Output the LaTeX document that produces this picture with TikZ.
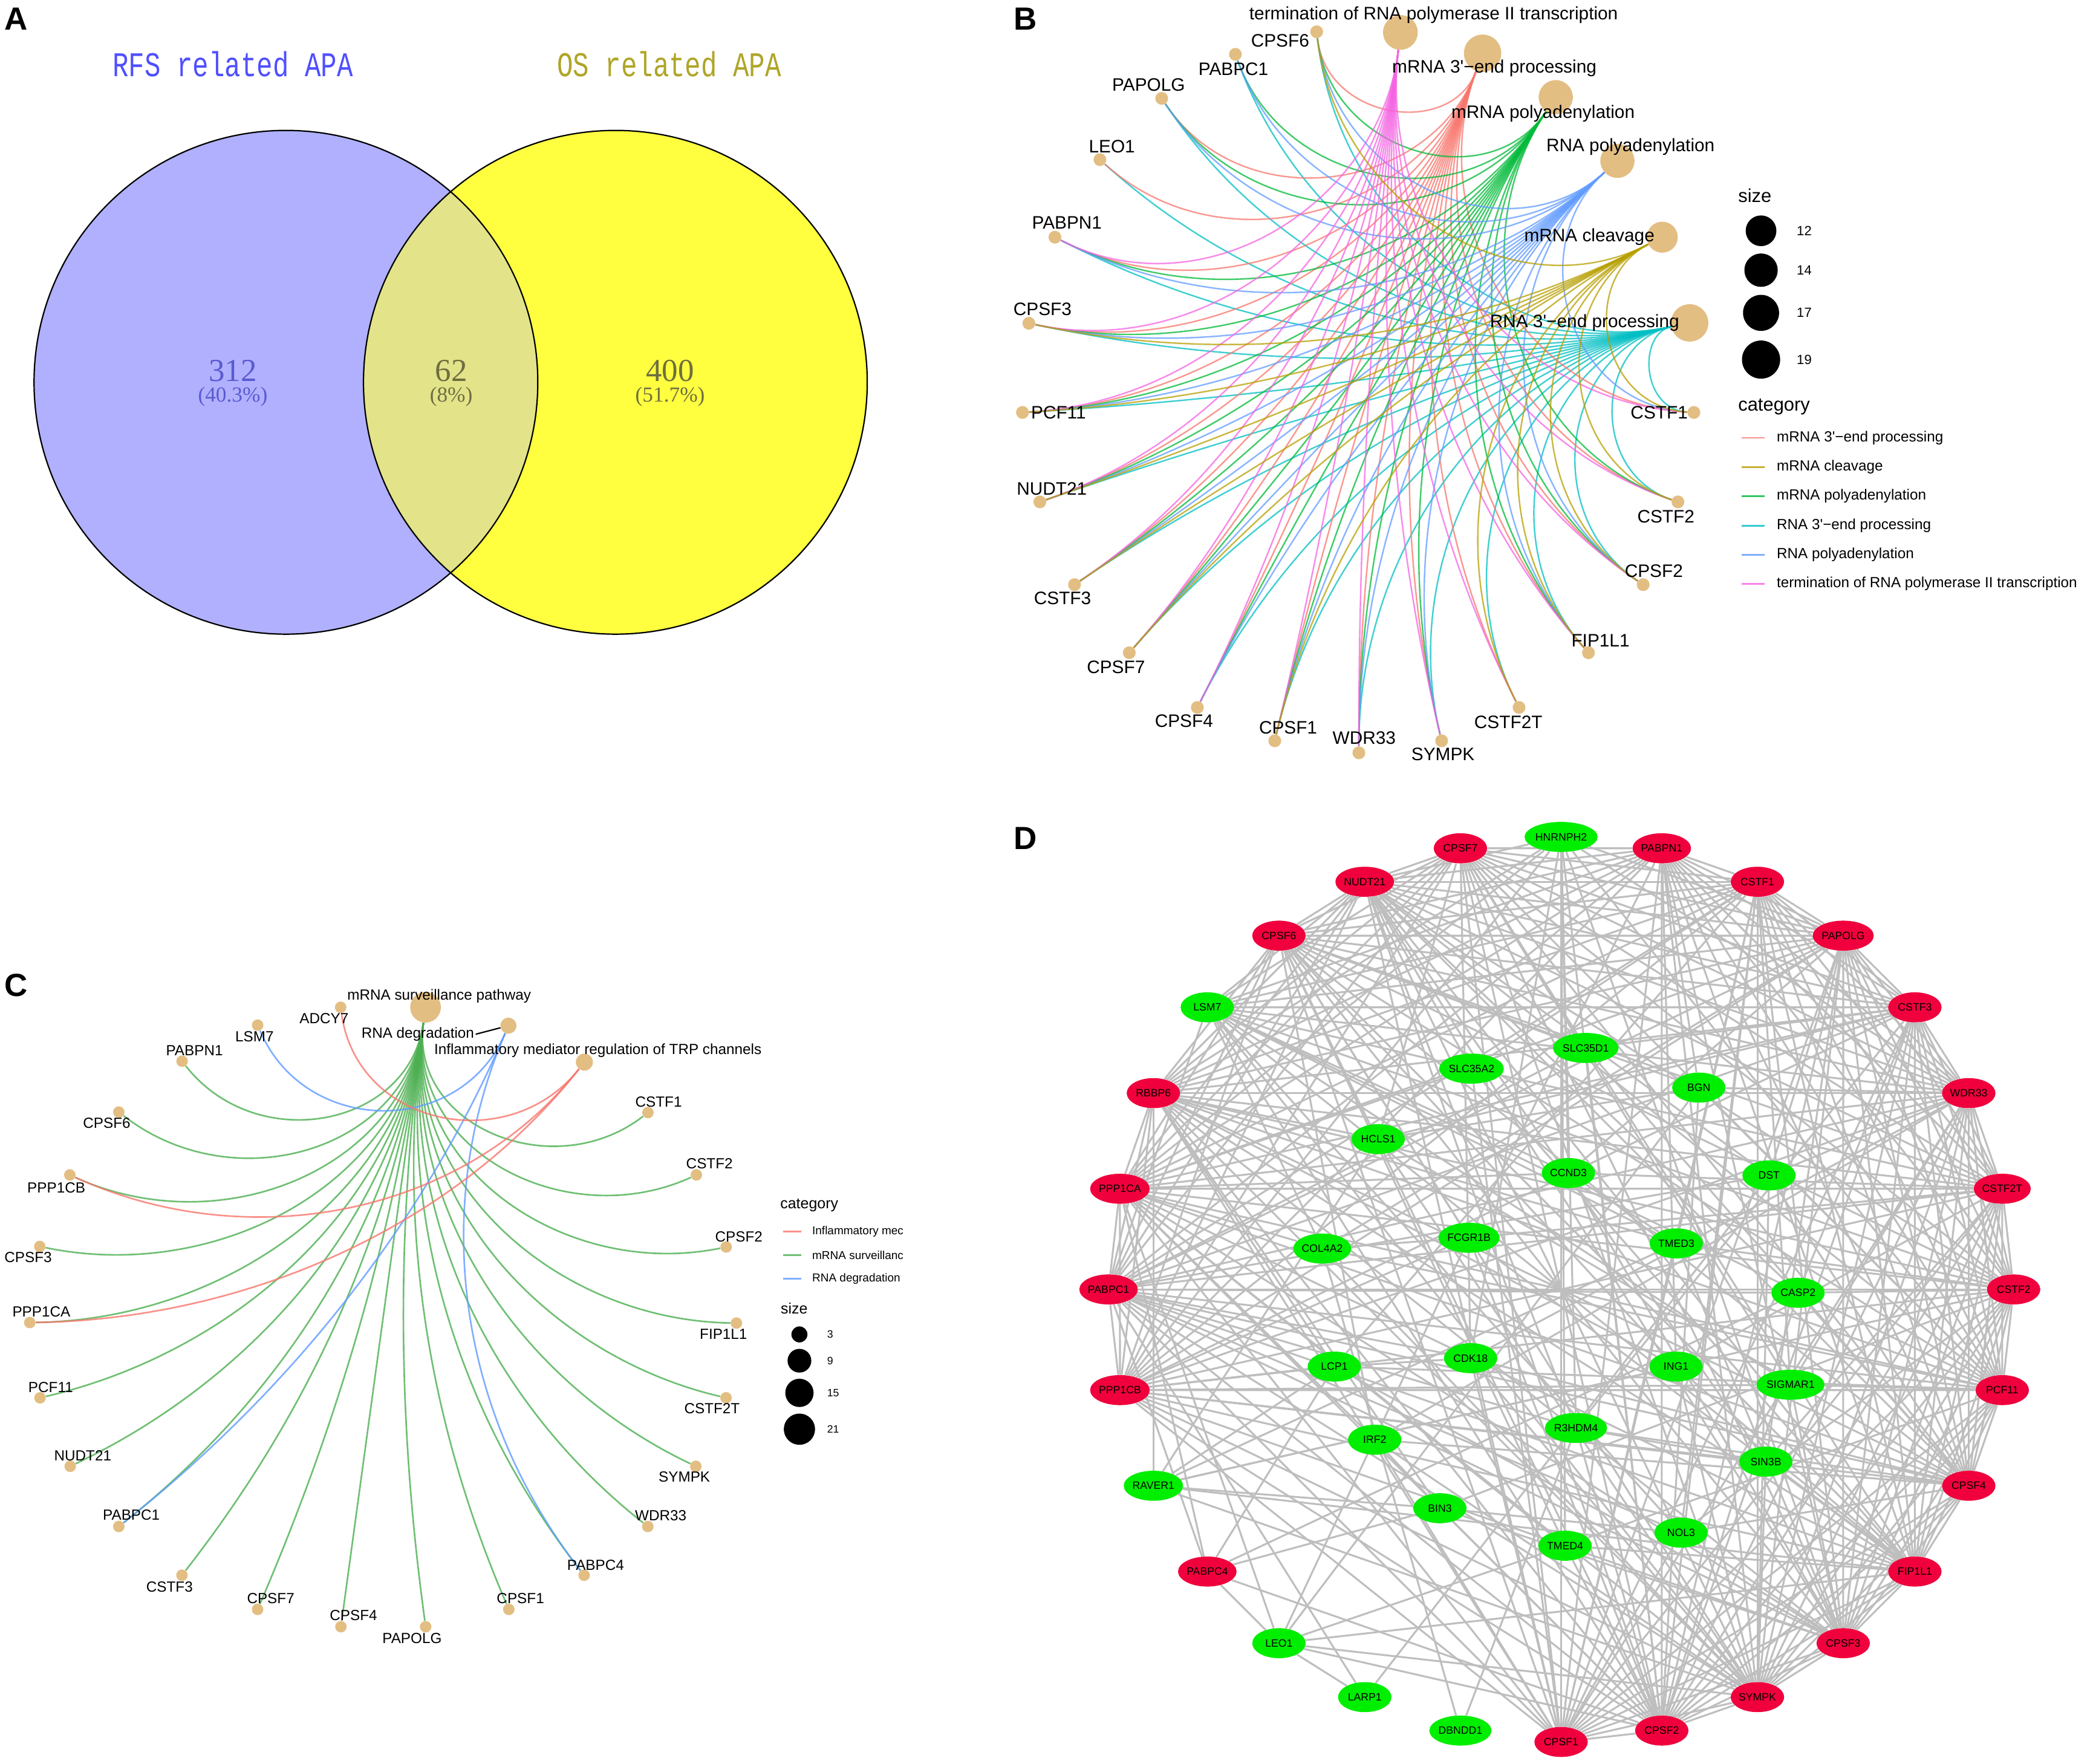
\documentclass[tikz,border=0pt]{standalone}
\usepackage{graphicx}
\usepackage{fontspec}
\setmainfont{Liberation Sans}
\newfontfamily\vmono{Liberation Mono}
\newfontfamily\vserif{Liberation Serif}
\font\aposA="Liberation Sans" at 11pt
\font\aposB="Liberation Sans" at 13.5pt
\usetikzlibrary{calc,shapes.geometric}
\pgfdeclarelayer{back}
\pgfdeclarelayer{bg}
\pgfsetlayers{back,bg,main}
\definecolor{vennL}{HTML}{B0B0FF}
\definecolor{vennR}{HTML}{FFFF40}
\definecolor{vennI}{HTML}{E3E38A}
\definecolor{rfsC}{HTML}{4F4FFF}
\definecolor{osC}{HTML}{AFA528}
\definecolor{nBlue}{HTML}{5A5AD0}
\definecolor{nOlive}{HTML}{6E6E40}
\definecolor{tanC}{HTML}{E3BE82}
\definecolor{cM3}{HTML}{F8766D}
\definecolor{cMcl}{HTML}{B79F00}
\definecolor{cMpa}{HTML}{00BA38}
\definecolor{cR3}{HTML}{00BFC4}
\definecolor{cRpa}{HTML}{619CFF}
\definecolor{cTerm}{HTML}{F564E3}
\definecolor{cGrn}{HTML}{4CAF50}
\definecolor{dRed}{HTML}{F0003C}
\definecolor{dGreen}{HTML}{00EE00}
\definecolor{dEdge}{HTML}{BEBEBE}
\newcommand\fs[1]{\fontsize{#1}{#1}\selectfont}
% arc orthogonal to the layout circle (radius \Rad, centre #4)
\newcommand\garc[4]{\draw[#1] let \p1=(#2), \p2=(#3), \n1={veclen(\x2-\x1,\y2-\y1)}, \n2={4/3*\n1/(2+\n1/\Rad)} in (#2) .. controls ($(#2)!\n2!(#4)$) and ($(#3)!\n2!(#4)$) .. (#3);}
\begin{document}
\begin{tikzpicture}[x=1pt,y=-1pt,
  plabel/.style={font=\fs{24}\bfseries, inner sep=0},
  glabel/.style={inner sep=0, font=\fs{13.5}},
  clabel/.style={inner sep=0, font=\fs{11}},
  bdot/.style={circle, fill=tanC, inner sep=0, minimum size=9.6},
  cdot/.style={circle, fill=tanC, inner sep=0, minimum size=8.6},
  dnode/.style={ellipse, inner sep=0, minimum width=40, minimum height=22.5, font=\fs{8}},
  dedge/.style={draw=dEdge, line width=1.4pt},
  bedge/.style={line width=1.1pt, opacity=0.75},
  cedge/.style={line width=1.2pt, opacity=0.8},
  legB/.style={inner sep=0, anchor=west, font=\fs{11}},
  legC/.style={inner sep=0, anchor=west, font=\fs{8.6}},
]
\useasboundingbox (0,0) rectangle (1568,1321.5);
\begin{pgfonlayer}{back}
\fill[white] (0,0) rectangle (1568,1321.5);
\end{pgfonlayer}

%% ---------------- Panel A ----------------
\node[plabel] (labA) at (12,14) {A};
\fill[vennL] (214.2,286.4) circle[radius=188.7];
\fill[vennR] (461,286.4) circle[radius=188.7];
\begin{scope}
  \clip (214.2,286.4) circle[radius=188.7];
  \fill[vennI] (461,286.4) circle[radius=188.7];
\end{scope}
\draw[line width=1pt] (214.2,286.4) circle[radius=188.7];
\draw[line width=1pt] (461,286.4) circle[radius=188.7];
\node[inner sep=0, font=\vmono\fs{20}, text=rfsC] (rfs) at (174.4,48) {\scalebox{1}[1.3]{RFS related APA}};
\node[inner sep=0, font=\vmono\fs{20}, text=osC] (os) at (501.3,48) {\scalebox{1}[1.3]{OS related APA}};
\node[inner sep=0, font=\vserif\fs{24}, text=nBlue] (n312) at (174.4,278) {312};
\node[inner sep=0, font=\vserif\fs{16}, text=nBlue] (p312) at (174.4,297) {(40.3\%)};
\node[inner sep=0, font=\vserif\fs{24}, text=nOlive] (n62) at (338,278) {62};
\node[inner sep=0, font=\vserif\fs{16}, text=nOlive] (p62) at (338,297) {(8\%)};
\node[inner sep=0, font=\vserif\fs{24}, text=nOlive] (n400) at (502,278) {400};
\node[inner sep=0, font=\vserif\fs{16}, text=nOlive] (p400) at (502,297) {(51.7\%)};

%% ---------------- Panel B ----------------
\node[plabel] (labB) at (768,14) {B};
\coordinate (bctr) at (1017.5,294);
\foreach \n/\x/\y in {CPSF6/986.4/23.8, PABPC1/925.5/40.7, PAPOLG/870.3/73.7, LEO1/824/119.6, PABPN1/790.3/177.7, CPSF3/770.8/242.2, PCF11/766/309, NUDT21/779/376, CSTF3/805/438, CPSF7/846/489, CPSF4/897/530, CPSF1/955/555, WDR33/1018/564, SYMPK/1080/555, CSTF2T/1138/530, FIP1L1/1190/489, CPSF2/1231/438, CSTF2/1257/376, CSTF1/1269/309}
{ \node[bdot] (b\n) at (\x,\y) {}; }
\node[bdot, minimum size=26] (bTerm) at (1049.1,24.3) {};
\node[bdot, minimum size=28] (bM3) at (1110.7,39.9) {};
\node[bdot, minimum size=25.6] (bMpa) at (1165.5,72.8) {};
\node[bdot, minimum size=25.6] (bRpa) at (1211.7,120.5) {};
\node[bdot, minimum size=23.2] (bMcl) at (1245.3,177.7) {};
\node[bdot, minimum size=28] (bR3) at (1265.8,241.9) {};

\def\Rad{260}
\begin{pgfonlayer}{bg}
\foreach \g in {CPSF6,PABPC1,PAPOLG,LEO1,PABPN1,CPSF3,PCF11,NUDT21,CSTF3,CPSF7,CPSF4,CPSF1,WDR33,SYMPK,CSTF2T,FIP1L1,CPSF2,CSTF2,CSTF1}
  {\garc{bedge,cR3}{bR3}{b\g}{bctr}}
\foreach \g in {CPSF6,PAPOLG,LEO1,PABPN1,CPSF3,PCF11,NUDT21,CSTF3,CPSF7,CPSF4,CPSF1,WDR33,SYMPK,CSTF2T,FIP1L1,CPSF2,CSTF2,CSTF1}
  {\garc{bedge,cM3}{bM3}{b\g}{bctr}}
\foreach \g in {CPSF6,PABPC1,PAPOLG,PABPN1,CPSF3,PCF11,NUDT21,CSTF3,CPSF7,CPSF4,CPSF1,WDR33,SYMPK,FIP1L1,CPSF2,CSTF2}
  {\garc{bedge,cMpa}{bMpa}{b\g}{bctr}}
\foreach \g in {CPSF6,PABPC1,PAPOLG,PABPN1,CPSF3,PCF11,NUDT21,CSTF3,CPSF7,CPSF4,CPSF1,WDR33,SYMPK,FIP1L1,CPSF2,CSTF1}
  {\garc{bedge,cRpa}{bRpa}{b\g}{bctr}}
\foreach \g in {PABPN1,CPSF3,PCF11,NUDT21,CSTF3,CPSF7,CPSF4,CPSF1,WDR33,SYMPK,CSTF2T,FIP1L1,CPSF2,CSTF2,CSTF1}
  {\garc{bedge,cTerm}{bTerm}{b\g}{bctr}}
\foreach \g in {CPSF6,CPSF3,PCF11,NUDT21,CSTF3,CPSF7,CPSF1,CSTF2T,FIP1L1,CPSF2,CSTF2,CSTF1}
  {\garc{bedge,cMcl}{bMcl}{b\g}{bctr}}
\end{pgfonlayer}

\foreach \n/\lx/\ly in {CPSF6/959/30.3, PABPC1/924/51.7, PAPOLG/860.5/63.6, LEO1/833/109.8, PABPN1/799.3/167, CPSF3/781/231.5, PCF11/793/309, NUDT21/788/366, CSTF3/796/448, CPSF7/836/500, CPSF4/887/540, CPSF1/965/545, WDR33/1022/553, SYMPK/1081/565, CSTF2T/1130/541, FIP1L1/1199/480, CPSF2/1239/428, CSTF2/1248/387, CSTF1/1243/309}
{ \node[glabel] (bl\n) at (\lx,\ly) {\n}; }
\node[glabel] (blTerm) at (1074,11.3) {termination of RNA polymerase II transcription};
\node[glabel] (blM3) at (1119.5,51.2) {mRNA 3{\aposB'}−end processing};
\node[glabel] (blMpa) at (1156,85) {mRNA polyadenylation};
\node[glabel] (blRpa) at (1221.5,109.8) {RNA polyadenylation};
\node[glabel] (blMcl) at (1190.7,177.7) {mRNA cleavage};
\node[glabel] (blR3) at (1187.1,241.9) {RNA 3{\aposB'}−end processing};

% legend B
\node[inner sep=0, anchor=west, font=\fs{14}] (bsize) at (1302,146.6) {size};
\foreach \y/\d/\t in {172.9/23/12, 202.4/25/14, 234.4/27/17, 269.4/28.6/19}
{ \node[circle, fill=black, inner sep=0, minimum size=\d] (bs\t) at (1319.3,\y) {};
  \node[inner sep=0, anchor=west, font=\fs{10}] (bst\t) at (1345.9,\y) {\t}; }
\node[inner sep=0, anchor=west, font=\fs{14}] (bcat) at (1302,304.7) {category};
\foreach \y/\c/\t [count=\k] in {328/cM3/{mRNA 3{\aposA'}−end processing}, 349.9/cMcl/{mRNA cleavage}, 371.7/cMpa/{mRNA polyadenylation}, 393.8/cR3/{RNA 3{\aposA'}−end processing}, 415.7/cRpa/{RNA polyadenylation}, 437.5/cTerm/{termination of RNA polymerase II transcription}}
{ \draw[\c, line width=1.3pt, opacity=0.8] (1304.8,\y) -- (1322,\y);
  \node[legB] (bleg\k) at (1330.9,\y) {\t}; }

%% ---------------- Panel C ----------------
\node[plabel] (labC) at (12,738) {C};
\coordinate (cctr) at (287,987);
\foreach \n/\x/\y in {ADCY7/255.2/754.6, LSM7/193/768, PABPN1/136.4/795, CPSF6/89/833.1, PPP1CB/52.3/880.2, CPSF3/29.8/933.8, PPP1CA/22.3/990.8, PCF11/30/1047.2, NUDT21/52.6/1098.5, PABPC1/89/1143.6, CSTF3/136.3/1180.1, CPSF7/193/1205.7, CPSF4/255.4/1218.7, PAPOLG/318.9/1218.7, CPSF1/381.2/1205.7, PABPC4/437.6/1180.1, WDR33/485.3/1143.6, SYMPK/521.3/1098.5, CSTF2T/543.9/1047.2, FIP1L1/551.7/991.2, CPSF2/544/934.2, CSTF2/521.7/880.2, CSTF1/485.4/833.5}
{ \node[cdot] (c\n) at (\x,\y) {}; }
\node[cdot, minimum size=23] (cHub) at (318.8,754.6) {};
\node[cdot, minimum size=12] (cRD) at (380.9,768.4) {};
\node[cdot, minimum size=12.8] (cInf) at (437.8,795.7) {};

\def\Rad{250}
\begin{pgfonlayer}{bg}
\foreach \g in {PABPN1,CPSF6,PPP1CB,CPSF3,PPP1CA,PCF11,NUDT21,PABPC1,CSTF3,CPSF7,CPSF4,PAPOLG,CPSF1,PABPC4,WDR33,SYMPK,CSTF2T,FIP1L1,CPSF2,CSTF2,CSTF1}
  {\garc{cedge,cGrn}{cHub}{c\g}{cctr}}
\foreach \g in {LSM7,PABPC1,PABPC4}
  {\garc{cedge,cRpa}{cRD}{c\g}{cctr}}
\foreach \g in {ADCY7,PPP1CB,PPP1CA}
  {\garc{cedge,cM3}{cInf}{c\g}{cctr}}
\end{pgfonlayer}

\foreach \n/\lx/\ly in {ADCY7/242.8/762.9, LSM7/190.7/776.5, PABPN1/145.7/787, CPSF6/80/841.2, PPP1CB/42.2/889.7, CPSF3/21.1/941.9, PPP1CA/31/982.7, PCF11/38/1039.5, NUDT21/62/1090.5, PABPC1/98.4/1134.9, CSTF3/127/1188.8, CPSF7/202.8/1197.3, CPSF4/264.8/1210.3, PAPOLG/308.7/1227.4, CPSF1/389.9/1197.3, PABPC4/446.2/1172.5, WDR33/495/1135.6, SYMPK/512.7/1106.4, CSTF2T/533.4/1055, FIP1L1/542/999.3, CPSF2/553.5/926.5, CSTF2/531.5/871.9, CSTF1/493.4/825.6}
{ \node[clabel] (cl\n) at (\lx,\ly) {\n}; }
\node[clabel] (clHub) at (329,746.1) {mRNA surveillance pathway};
\node[clabel] (clRD) at (313,774.8) {RNA degradation};
\node[clabel] (clInf) at (447.9,787) {Inflammatory mediator regulation of TRP channels};
\draw[black, line width=1pt] ([xshift=1pt]clRD.east) -- (cRD);

% legend C
\node[inner sep=0, anchor=west, font=\fs{11.3}] (ccat) at (584.4,902.8) {category};
\foreach \y/\c/\t [count=\k] in {922.6/cM3/{Inflammatory mec}, 940.2/cGrn/{mRNA surveillanc}, 958/cRpa/{RNA degradation}}
{ \draw[\c, line width=1.2pt, opacity=0.8] (586.5,\y) -- (600.2,\y);
  \node[legC] (cleg\k) at (608.3,\y) {\t}; }
\node[inner sep=0, anchor=west, font=\fs{11.3}] (csize) at (584.7,980.4) {size};
\foreach \y/\d/\t in {999.7/12/3, 1019.4/17.8/9, 1043.5/21.2/15, 1070.7/23.4/21}
{ \node[circle, fill=black, inner sep=0, minimum size=\d] (cs\t) at (598.9,\y) {};
  \node[inner sep=0, anchor=west, font=\fs{8}] (cst\t) at (619.5,\y) {\t}; }

%% ---------------- Panel D ----------------
\node[plabel] (labD) at (768,628) {D};
\foreach \i/\n/\c in {0/HNRNPH2/dGreen, 1/PABPN1/dRed, 2/CSTF1/dRed, 3/PAPOLG/dRed, 4/CSTF3/dRed, 5/WDR33/dRed, 6/CSTF2T/dRed, 7/CSTF2/dRed, 8/PCF11/dRed, 9/CPSF4/dRed, 10/FIP1L1/dRed, 11/CPSF3/dRed, 12/SYMPK/dRed, 13/CPSF2/dRed, 14/CPSF1/dRed, 15/DBNDD1/dGreen, 16/LARP1/dGreen, 17/LEO1/dGreen, 18/PABPC4/dRed, 19/RAVER1/dGreen, 20/PPP1CB/dRed, 21/PABPC1/dRed, 22/PPP1CA/dRed, 23/RBBP6/dRed, 24/LSM7/dGreen, 25/CPSF6/dRed, 26/NUDT21/dRed, 27/CPSF7/dRed}
{ \node[dnode, fill=\c] (d\i) at ({1169.5+339*cos(90-\i*360/28)},{966-339*sin(90-\i*360/28)}) {\n}; }
\foreach \n/\x/\y in {SLC35D1/1188/785.1, SLC35A2/1102.4/800.6, BGN/1272.7/814.8, HCLS1/1032.5/853.4, CCND3/1175/878.8, DST/1325.3/880.6, FCGR1B/1100.5/927.3, TMED3/1255.8/931.5, COL4A2/990.6/935.4, CASP2/1347/968.5, LCP1/999.6/1023.8, CDK18/1101.7/1017.5, ING1/1255.6/1023.8, SIGMAR1/1341.4/1037.4, R3HDM4/1180.7/1069.8, IRF2/1029.9/1078.6, SIN3B/1322.9/1095, BIN3/1078.7/1129.9, NOL3/1259.4/1148.2, TMED4/1172.5/1158}
{ \node[dnode, fill=dGreen] (D\n) at (\x,\y) {\n}; }

\begin{pgfonlayer}{bg}
\foreach \a [count=\ia] in {1,2,3,4,5,6,7,8,9,10,11,12,13,14,20,21,22,23,25,26,27}
{ \foreach \b [count=\ib] in {1,2,3,4,5,6,7,8,9,10,11,12,13,14,20,21,22,23,25,26,27}
  { \ifnum\ib>\ia \draw[dedge] (d\a) -- (d\b); \fi } }
\foreach \a/\L in {d0/{d3,d5,d8,d11,d13,d14,d20,d22,d23,d26},
  d24/{d1,d2,d3,d4,d5,d7,d8,d10,d12,d13,d21,d26,d27},
  d19/{d7,d10,d12,DLCP1,d23},
  d17/{d10,d12,d13,d16,d22,DTMED4},
  d16/{d21},
  d15/{DR3HDM4},
  d18/{d22,DLCP1,DBIN3,d17,d13,d21},
  DSLC35D1/{d25,d27,d4,d9,d13,d21},
  DSLC35A2/{d26,d2,d6,d10,d14,d22,d24},
  DBGN/{d1,d5,d8,d13,d17,d25,DHCLS1},
  DHCLS1/{d23,d27,d4,d9,d12,d19},
  DCCND3/{d0,d3,d11,d22,d24,DTMED3,d6},
  DDST/{d3,d5,d9,d12,d21,d26,d16},
  DTMED3/{d2,d7,d11,d14,d19,d23,d24},
  DFCGR1B/{d1,d6,d10,d13,d20,d25,d17},
  DCOL4A2/{d22,d24,d3,d8,d12,d15,DFCGR1B},
  DCASP2/{d4,d7,d9,d13,d21,d26,d18},
  DLCP1/{d20,d23,d2,d8,d11,DCDK18},
  DCDK18/{d21,d0,d5,d9,d12,d14,d27},
  DING1/{d1,d6,d10,d12,d19,d23,d25},
  DSIGMAR1/{d2,d5,d8,d11,d20,d24,d27},
  DR3HDM4/{d0,d4,d9,d13,d21,d26},
  DIRF2/{d22,d25,d5,d9,d12,d14,DBIN3},
  DSIN3B/{d3,d6,d10,d12,d20,d26,DR3HDM4},
  DBIN3/{d19,d7,d11,d13,d23,DNOL3},
  DTMED4/{d8,d10,d13,d22,d25,d0},
  DNOL3/{d2,d7,d9,d11,d14,d21,d24}}
{ \foreach \b in \L { \draw[dedge] (\a) -- (\b); } }
\end{pgfonlayer}
\end{tikzpicture}
\end{document}
